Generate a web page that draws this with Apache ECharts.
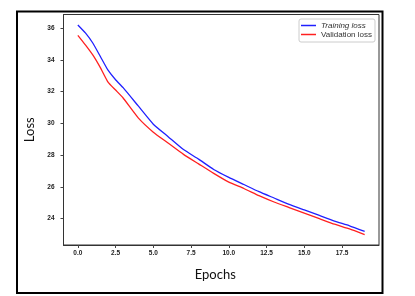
<!DOCTYPE html>
<html>
<head>
<meta charset="utf-8">
<script src="https://cdn.jsdelivr.net/npm/echarts@6/dist/echarts.min.js"></script>
<style>html,body{margin:0;padding:0;background:#fff;}#c{width:415px;height:296px;}</style>
</head>
<body>
<div id="c"></div>
<script>
// Epoch positions (x) and loss values
const epochs = [0, 0.5, 1, 1.5, 2, 2.5, 3, 4, 5, 6, 7, 8, 9, 10, 11, 12, 13, 14, 15, 16, 17, 18, 19];
const trainingLoss = [36.2, 35.7, 35.05, 34.2, 33.35, 32.75, 32.25, 31.1, 29.95, 29.15, 28.35, 27.75, 27.1, 26.6, 26.15, 25.7, 25.3, 24.9, 24.55, 24.2, 23.85, 23.55, 23.2];
const validationLoss = [35.55, 34.95, 34.3, 33.5, 32.6, 32.1, 31.6, 30.35, 29.45, 28.75, 28.05, 27.45, 26.85, 26.3, 25.9, 25.45, 25.05, 24.7, 24.35, 24.0, 23.65, 23.35, 23.0];
const xTicks = [0, 2.5, 5, 7.5, 10, 12.5, 15, 17.5];
const yTicks = [24, 26, 28, 30, 32, 34, 36];

const pairs = (xs, ys) => xs.map((x, i) => [x, ys[i]]);
const chart = echarts.init(document.getElementById('c'), null, {renderer: 'canvas'});
const tickLabelStyle = {fontFamily: 'Liberation Sans', fontSize: 6.5, fontWeight: 'bold', color: '#222'};
const lineIcon = 'path://M0,0 L30,0 L30,3 L0,3 Z';

chart.setOption({
  animation: false,
  backgroundColor: '#fff',
  grid: {left: 63.5, top: 14.5, right: 36, bottom: 51, show: true, borderColor: '#333', borderWidth: 1, backgroundColor: '#fff'},
  legend: {
    left: 299, top: 19, orient: 'vertical',
    backgroundColor: '#fff', borderColor: '#ccc', borderWidth: 1, borderRadius: 2,
    padding: [2, 3, 3, 2], itemWidth: 15, itemHeight: 1.5, itemGap: 0,
    textStyle: {fontFamily: 'Liberation Sans', fontSize: 8, color: '#333', lineHeight: 9, padding: [0, 0, 0, 0]},
    data: [
      {name: 'Training loss', icon: lineIcon, textStyle: {fontStyle: 'italic'}},
      {name: 'Validation loss', icon: lineIcon}
    ]
  },
  xAxis: {
    type: 'value', min: -0.95, max: 19.95, position: 'bottom',
    name: 'Epochs', nameLocation: 'middle', nameGap: 23,
    nameTextStyle: {fontFamily: 'Lato', fontSize: 13, color: '#111', padding: [0, 12, 0, 0]},
    axisLine: {show: true, onZero: false, lineStyle: {color: '#333', width: 1}},
    splitLine: {show: false},
    axisTick: {show: true, length: 3, lineStyle: {color: '#444'}, customValues: xTicks},
    axisLabel: Object.assign({margin: 5, customValues: xTicks, formatter: v => v.toFixed(1)}, tickLabelStyle)
  },
  yAxis: {
    type: 'value', min: 22.34, max: 36.86, position: 'left',
    name: 'Loss', nameLocation: 'middle', nameGap: 25, nameRotate: 90,
    nameTextStyle: {fontFamily: 'Lato', fontSize: 13, color: '#111'},
    axisLine: {show: true, onZero: false, lineStyle: {color: '#333', width: 1}},
    splitLine: {show: false},
    axisTick: {show: true, length: 3, lineStyle: {color: '#444'}, customValues: yTicks},
    axisLabel: Object.assign({margin: 9, customValues: yTicks, formatter: v => String(v)}, tickLabelStyle)
  },
  series: [
    {name: 'Training loss', type: 'line', data: pairs(epochs, trainingLoss), symbol: 'none', smooth: 0.15, lineStyle: {color: '#2020ff', width: 1.3}, itemStyle: {color: '#2020ff'}},
    {name: 'Validation loss', type: 'line', data: pairs(epochs, validationLoss), symbol: 'none', smooth: 0.15, lineStyle: {color: '#ff2020', width: 1.3}, itemStyle: {color: '#ff2020'}}
  ],
  graphic: [
    {type: 'rect', shape: {x: 17, y: 11.5, width: 365.5, height: 281.5}, style: {fill: 'none', stroke: '#000', lineWidth: 2}, silent: true}
  ]
});
</script>
</body>
</html>
